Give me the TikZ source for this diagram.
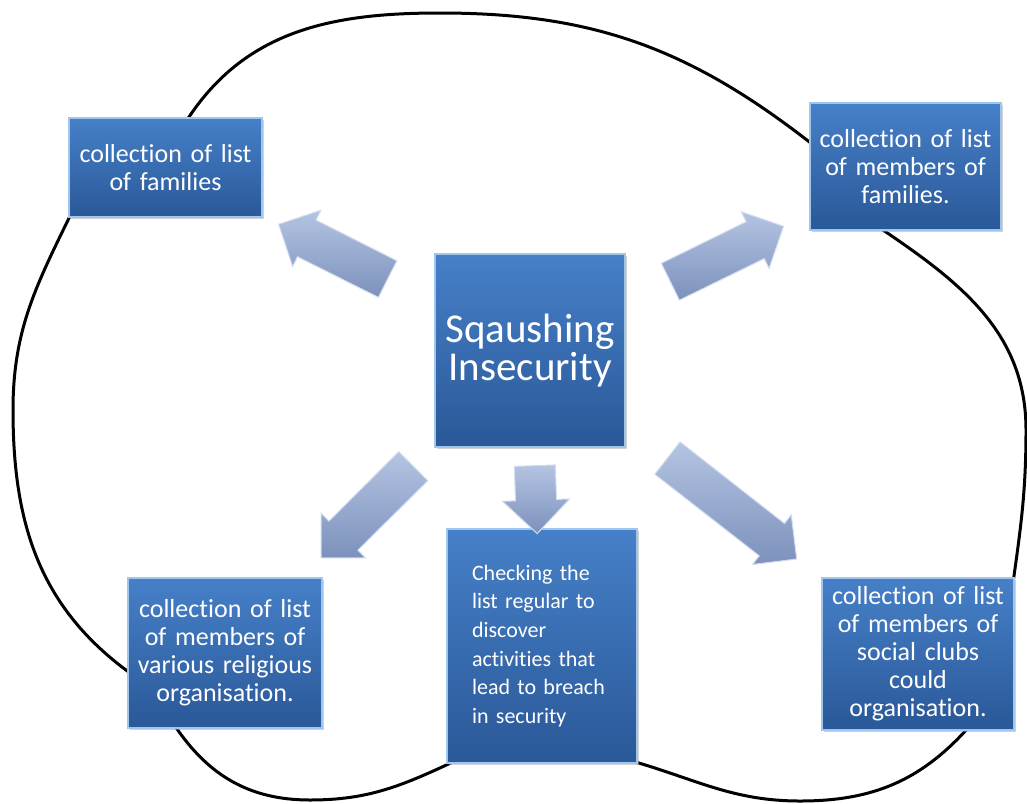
\documentclass[tikz,border=0pt]{standalone}
\usepackage{fontspec}
\setmainfont{Carlito}[Ligatures=NoCommon]
\usetikzlibrary{shapes.arrows,shadows}
\definecolor{boxtop}{RGB}{70,128,200}
\definecolor{boxbot}{RGB}{42,88,152}
\definecolor{boxrim}{RGB}{160,198,238}
\definecolor{arrlight}{RGB}{180,196,226}
\definecolor{arrdark}{RGB}{124,145,188}
\begin{document}
\begin{tikzpicture}[x=1pt,y=1pt,
 box/.style={draw=boxrim,line width=1.2pt,top color=boxtop,bottom color=boxbot,text=white,align=center,inner sep=0pt,
  drop shadow={shadow xshift=1.5pt,shadow yshift=-2pt,fill=black!35}},
 small/.style={font=\fontsize{26}{28}\selectfont},
 blk/.style={single arrow,single arrow head extend=11pt,inner xsep=0pt,inner ysep=20pt,
  draw=white!40!arrlight,line width=1pt,top color=arrlight,bottom color=arrdark}]
\useasboundingbox (0,-803) rectangle (1027,0);
\draw[line width=3pt] (187,-120) to[out=57,in=180] (440,-13) to[out=0,in=142] (812,-144) -- (880,-228)
 to[out=-34,in=90] (1026,-430) to[out=-90,in=82] (1012,-590) -- (968,-728) to[out=228,in=0] (800,-801)
 to[out=180,in=-16] (632,-761) -- (455,-761) to[out=205,in=0] (310,-800) to[out=180,in=-56] (175,-726)
 -- (130,-673) to[out=144,in=-90] (13,-410) to[out=90,in=-116] (71,-214) -- cycle;
\node[box,font=\fontsize{41}{38}\selectfont,text width=190pt,minimum height=193pt](sq) at (530,-350.5) {Sqaushing\\Insecurity};
\node[box,small,text width=193pt,minimum height=99pt](fam) at (165.5,-167.5) {collection of list\\of families};
\node[box,small,text width=191pt,minimum height=127pt](mem) at (905.5,-166.5) {collection of list\\of members of\\families.};
\node[box,small,text width=194pt,minimum height=150pt](rel) at (225,-653) {collection of list\\of members of\\various religious\\organisation.};
\node[box,font=\fontsize{22}{28.7}\selectfont,align=left,text width=140pt,inner xsep=25pt,minimum height=234pt](chk) at (542,-646)
 {Checking the\\list regular to\\discover\\activities that\\lead to breach\\in security};
\node[box,small,text width=192pt,minimum height=152pt](soc) at (918,-654) {collection of list\\of members of\\social clubs\\could\\organisation.};
\path(sq.center)--(fam.center) node[blk,pos=.515,rotate=153.3,minimum height=122pt](afam){};
\path(sq.center)--(mem.center) node[blk,pos=.5,rotate=26.1,minimum height=126pt](amem){};
\path(sq.center)--(rel.center) node[blk,pos=.51,rotate=224.8,minimum height=130pt](arel){};
\path(sq.center)--(soc.center) node[blk,pos=.5,rotate=-38,minimum height=164pt](asoc){};
\path(sq.center)--(chk.center) node[blk,pos=.47,rotate=-88,minimum height=68pt,single arrow head extend=13pt](achk){};
\end{tikzpicture}
\end{document}
